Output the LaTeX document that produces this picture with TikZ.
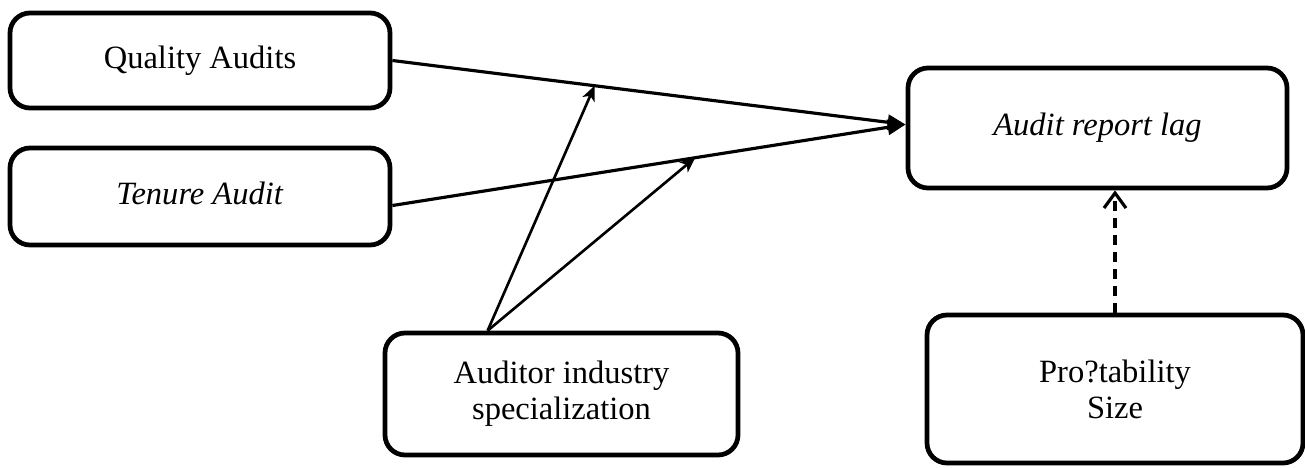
\documentclass[tikz,border=0pt]{standalone}
\usepackage{fontspec}
\setmainfont{Liberation Serif}
\usepackage{tikz}
\usetikzlibrary{positioning,calc,arrows.meta}

\begin{document}
\begin{tikzpicture}[x=1cm,y=1cm,font=\fontsize{18.5}{20.5}\selectfont,
   bx/.style={rounded corners=0.4cm,draw,line width=2.7pt,align=center,inner sep=2pt},
   e/.style={line width=1.8pt,-{Triangle[length=0.36cm,width=0.3cm]}},
   m/.style={line width=1.5pt,-{Stealth[length=0.3cm,width=0.26cm,inset=0.08cm]}},
   c/.style={line width=1.8pt,dash pattern=on 0.2cm off 0.14cm,-{Straight Barb[length=0.3cm,width=0.44cm,line width=1.8pt]}}]
\useasboundingbox (0,0) rectangle (26.1,9.34);
%% ---- independent variables ----
\node[bx,minimum width=7.6cm,minimum height=1.9cm] (qa) at (4.0,8.13) {\raisebox{-0.06cm}{Quality Audits}};
\node[bx,minimum width=7.6cm,minimum height=1.94cm] (ta) at (4.0,5.41) {\raisebox{0.14cm}{\textit{Tenure Audit}}};
%% ---- dependent, moderator, controls ----
\node[bx,minimum width=7.58cm,minimum height=2.4cm] (arl) at (21.95,6.78) {\textit{Audit report lag}};
\node[bx,minimum width=7.06cm,minimum height=2.44cm] (ais) at (11.23,1.46) {Auditor industry\\specialization};
\node[bx,minimum width=7.52cm,minimum height=2.96cm] (ps) at (22.3,1.56) {Pro?tability\\Size};
\coordinate (src) at ([xshift=2.1cm]ais.north west);
%% ---- main effects ----
\draw[e] (qa.east) -- coordinate[pos=0.394] (mq) ([yshift=0.07cm]arl.west);
\draw[e] ([yshift=-0.18cm]ta.east) -- coordinate[pos=0.59] (mt) ([yshift=0.07cm]arl.west);
%% ---- moderation ----
\draw[m] (src) -- (mq);
\draw[m] (src) -- (mt);
\draw[c] (ps.north) -- (ps.north |- arl.south);
\end{tikzpicture}
\end{document}
